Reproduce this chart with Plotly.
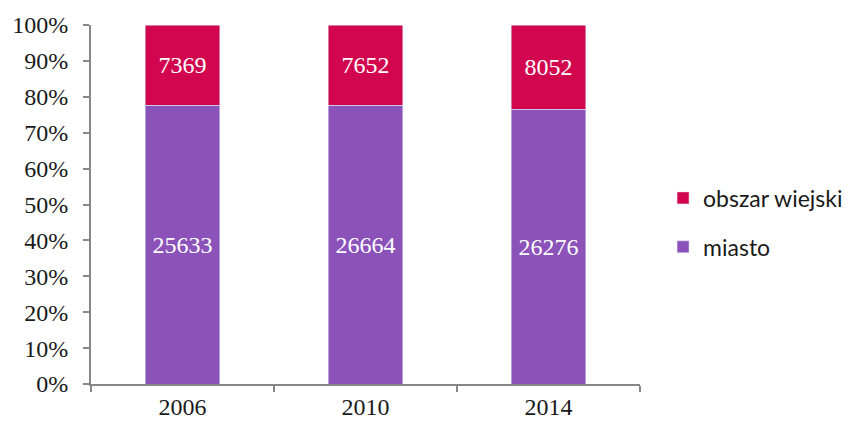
import plotly.graph_objects as go

years = ["2006", "2010", "2014"]
miasto = [25633, 26664, 26276]
obszar_wiejski = [7369, 7652, 8052]
y_ticks = [0, 10, 20, 30, 40, 50, 60, 70, 80, 90, 100]
y_tick_labels = [f"{v}%" for v in y_ticks]

serif = "'Liberation Serif', 'DejaVu Serif', serif"
sans = "Lato, 'Open Sans', sans-serif"

fig = go.Figure()
fig.add_trace(go.Bar(
    x=years, y=miasto, name="miasto", marker_color="#8B52B9",
    legendgroup="m", legendrank=2,
    text=miasto, texttemplate="%{text}", textposition="inside",
    insidetextanchor="middle", textangle=0,
    textfont=dict(family=serif, size=24, color="white"),
))
fig.add_trace(go.Bar(
    x=years, y=obszar_wiejski, name="obszar wiejski", marker_color="#D2064E",
    legendgroup="o", legendrank=1,
    text=obszar_wiejski, texttemplate="%{text}", textposition="inside",
    insidetextanchor="middle", textangle=0,
    textfont=dict(family=serif, size=24, color="white"),
))

fig.update_layout(
    barmode="stack", barnorm="percent", bargap=0.592,
    width=856, height=426,
    margin=dict(l=91, r=216, t=25, b=42, autoexpand=False),
    plot_bgcolor="white", paper_bgcolor="white",
    uniformtext=dict(mode=False),
    legend=dict(
        traceorder="grouped", x=1.042, y=0.45, xanchor="left", yanchor="middle",
        font=dict(family=sans, size=23, color="#1a1a1a"),
        itemwidth=30, tracegroupgap=16,
    ),
    showlegend=True,
)
fig.update_xaxes(
    showline=True, linecolor="#878787", linewidth=2,
    ticks="outside", tickson="boundaries", ticklen=6, tickcolor="#878787", tickwidth=2,
    tickfont=dict(family=serif, size=24, color="#1a1a1a"),
    showgrid=False, automargin=False,
)
fig.update_yaxes(
    range=[0, 100], tickvals=y_ticks, ticktext=y_tick_labels,
    showline=True, linecolor="#878787", linewidth=2,
    ticks="outside", ticklen=6, tickcolor="#878787", tickwidth=2,
    ticklabelstandoff=10,
    tickfont=dict(family=serif, size=24, color="#1a1a1a"),
    showgrid=False, zeroline=False, automargin=False,
)

fig.write_html(
    "out.html",
    config={"displayModeBar": False},
    post_script="document.body.style.margin='0';document.body.style.padding='0';",
)
